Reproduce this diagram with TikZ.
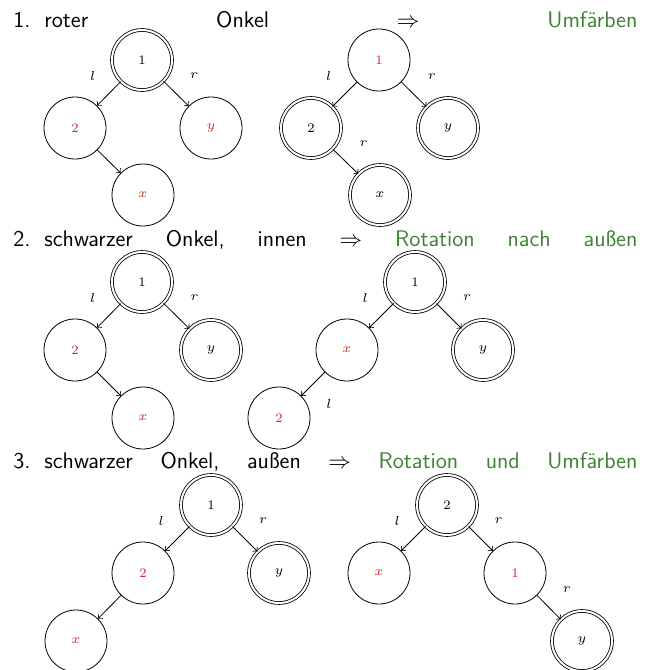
\RequirePackage{fix-cm}
\documentclass[tikz,border=0pt]{standalone}
\usepackage{fontspec}
\usepackage{tikz}
\definecolor{redc}{RGB}{200,45,40}
\definecolor{grnc}{RGB}{60,130,50}
\tikzset{
  knot/.style={circle,draw,minimum size=31pt,inner sep=0pt,font=\fontsize{6.5}{7.5}\selectfont},
  rot/.style={knot,text=redc},
  schwarz/.style={knot,double,double distance=1pt,minimum size=30pt},
  lbl/.style={midway,font=\fontsize{6.5}{7.5}\selectfont},
  ll/.style={lbl,xshift=-8pt,yshift=9pt},
  lr/.style={lbl,xshift=9pt,yshift=9pt},
  lb/.style={lbl,xshift=8pt,yshift=-10pt},
  kopf/.style={anchor=base west,inner sep=0pt,font=\sffamily\fontsize{11.3}{13}\selectfont}
}
\begin{document}
\begin{tikzpicture}[x=0.5pt,y=-0.5pt,>=to]
\useasboundingbox (0,0) rectangle (653,670);

%% 1. roter Onkel
\node[kopf] (h1Pt) at (13,27) {\hbox to 312pt{\makebox[15.5pt][l]{1.}roter\hfill Onkel\hfill$\Rightarrow$\hfill\textcolor{grnc}{Umfärben}}};

\node[schwarz] (a1Pt) at (142,60) {1};
\node[rot] (a2Pt) at (75,128) {2};
\node[rot] (ayPt) at (211,128) {$y$};
\node[rot] (axPt) at (143,195) {$x$};
\draw[->] (a1Pt) -- node[ll]{$l$} (a2Pt);
\draw[->] (a1Pt) -- node[lr]{$r$} (ayPt);
\draw[->] (a2Pt) -- (axPt);

\node[rot] (b1Pt) at (379,60) {1};
\node[schwarz] (b2Pt) at (311,128) {2};
\node[schwarz] (byPt) at (448,128) {$y$};
\node[schwarz] (bxPt) at (380,195) {$x$};
\draw[->] (b1Pt) -- node[ll]{$l$} (b2Pt);
\draw[->] (b1Pt) -- node[lr]{$r$} (byPt);
\draw[->] (b2Pt) -- node[lr]{$r$} (bxPt);

%% 2. schwarzer Onkel, innen
\node[kopf] (h2Pt) at (13,246) {\hbox to 312pt{\makebox[15.5pt][l]{2.}schwarzer\hfill Onkel,\hfill innen\hfill$\Rightarrow$\hfill\textcolor{grnc}{Rotation\hfill nach\hfill außen}}};

\node[schwarz] (c1Pt) at (142,282) {1};
\node[rot] (c2Pt) at (75,350) {2};
\node[schwarz] (cyPt) at (211,350) {$y$};
\node[rot] (cxPt) at (143,418) {$x$};
\draw[->] (c1Pt) -- node[ll]{$l$} (c2Pt);
\draw[->] (c1Pt) -- node[lr]{$r$} (cyPt);
\draw[->] (c2Pt) -- (cxPt);

\node[schwarz] (d1Pt) at (415,282) {1};
\node[rot] (dxPt) at (347,350) {$x$};
\node[schwarz] (dyPt) at (483,350) {$y$};
\node[rot] (d2Pt) at (279,418) {2};
\draw[->] (d1Pt) -- node[ll]{$l$} (dxPt);
\draw[->] (d1Pt) -- node[lr]{$r$} (dyPt);
\draw[->] (dxPt) -- node[lb]{$l$} (d2Pt);

%% 3. schwarzer Onkel, aussen
\node[kopf] (h3Pt) at (13,468) {\hbox to 312pt{\makebox[15.5pt][l]{3.}schwarzer\hfill Onkel,\hfill außen\hfill$\Rightarrow$\hfill\textcolor{grnc}{Rotation\hfill und\hfill Umfärben}}};

\node[schwarz] (e1Pt) at (211,505) {1};
\node[rot] (e2Pt) at (143,573) {2};
\node[schwarz] (eyPt) at (279,573) {$y$};
\node[rot] (exPt) at (76,641) {$x$};
\draw[->] (e1Pt) -- node[ll]{$l$} (e2Pt);
\draw[->] (e1Pt) -- node[lr]{$r$} (eyPt);
\draw[->] (e2Pt) -- (exPt);

\node[schwarz] (f2Pt) at (447,505) {2};
\node[rot] (fxPt) at (379,573) {$x$};
\node[rot] (f1Pt) at (515,573) {1};
\node[schwarz] (fyPt) at (582,641) {$y$};
\draw[->] (f2Pt) -- node[ll]{$l$} (fxPt);
\draw[->] (f2Pt) -- node[lr]{$r$} (f1Pt);
\draw[->] (f1Pt) -- node[lr]{$r$} (fyPt);

\end{tikzpicture}
\end{document}
